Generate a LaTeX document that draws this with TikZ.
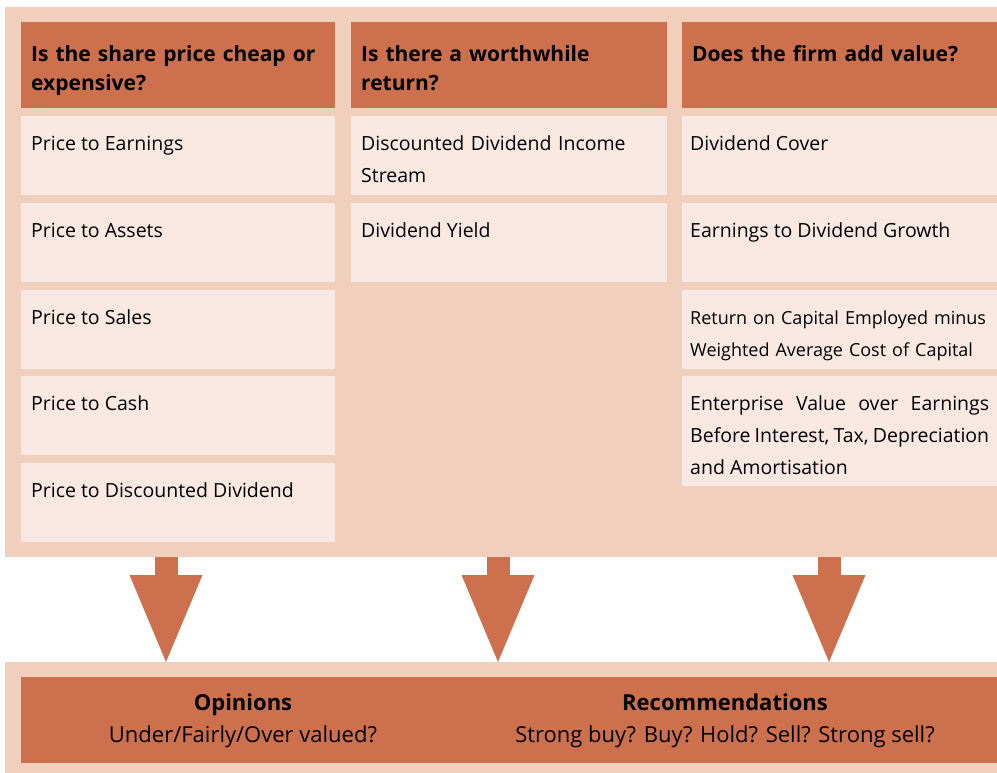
\documentclass[tikz,border=0pt]{standalone}
\usepackage{fontspec}
\setmainfont{Open Sans}
\usetikzlibrary{arrows.meta}
\definecolor{panel}{RGB}{240,208,188}
\definecolor{rust}{RGB}{204,112,78}
\definecolor{pale}{RGB}{250,233,226}
\hyphenpenalty=10000
\begin{document}
\begin{tikzpicture}[x=1pt,y=-1pt,font=\fontsize{19.5}{32}\selectfont,
back/.style={anchor=north west,fill=panel,inner sep=0pt},
hdr/.style={anchor=north west,fill=rust,inner xsep=10pt,inner ysep=0pt,text width=294pt,align=left,text height=39pt,text depth=47pt,font=\fontsize{21}{29.5}\selectfont\bfseries},
cell/.style={anchor=north west,fill=pale,inner xsep=10pt,inner ysep=0pt,text width=294pt,align=justify,text height=34pt,text depth=45pt},
flow/.style={draw=rust,line width=23pt,-{Triangle[width=73pt,length=87pt,line width=0pt]}}]
\useasboundingbox (0,0) rectangle (997,773);
\node[back,minimum width=995pt,minimum height=550pt] (board) at (5,7) {};
\node[back,minimum width=995pt,minimum height=111pt] (base) at (5,662) {};
% column heads
\node[hdr] (h1) at (21,22) {Is the share price cheap or expensive?};
\node[hdr,text width=296pt] (h2) at (351,22) {Is there a worthwhile return?};
\node[hdr,text width=295pt] (h3) at (682,22) {Does the firm add value?};
% measures
\foreach \y/\t [count=\i] in {116/Price to Earnings,203/Price to Assets,290/Price to Sales,376/Price to Cash,463/Price to Discounted Dividend}
  \node[cell] (c1\i) at (21,\y) {\t};
\node[cell,text width=296pt,align=left] (c21) at (351,116) {\makebox[283pt][s]{Discounted Dividend Income}\\Stream};
\node[cell,text width=296pt] (c22) at (351,203) {Dividend Yield};
\node[cell,inner xsep=8pt,text width=299pt] (c31) at (682,116) {Dividend Cover};
\node[cell,inner xsep=8pt,text width=299pt] (c32) at (682,203) {Earnings to Dividend Growth};
\node[cell,inner xsep=8pt,text width=299pt,align=left,font=\fontsize{18}{32}\selectfont] (c33) at (682,290) {\mbox{Return on Capital Employed minus}\\\mbox{Weighted Average Cost of Capital}};
\node[cell,inner xsep=8pt,text width=299pt,text depth=76pt] (c34) at (682,376) {Enterprise Value over Earnings\linebreak Before Interest, Tax, Depreciation\linebreak and Amortisation};
\foreach \x in {166,498,829} \draw[flow] (\x,0 |- board.south) -- (\x,0 |- base.north);
% outcome band
\node[anchor=north west,fill=rust,inner sep=0pt,minimum width=979pt,minimum height=86pt] (band) at (21,677) {};
\node[align=center,font=\fontsize{22}{32}\selectfont] (opin) at (243,721) {\textbf{Opinions}\\Under/Fairly/Over valued?};
\node[align=center,font=\fontsize{22}{32}\selectfont] (reco) at (725,721) {\textbf{Recommendations}\\Strong buy? Buy? Hold? Sell? Strong sell?};
\end{tikzpicture}
\end{document}
